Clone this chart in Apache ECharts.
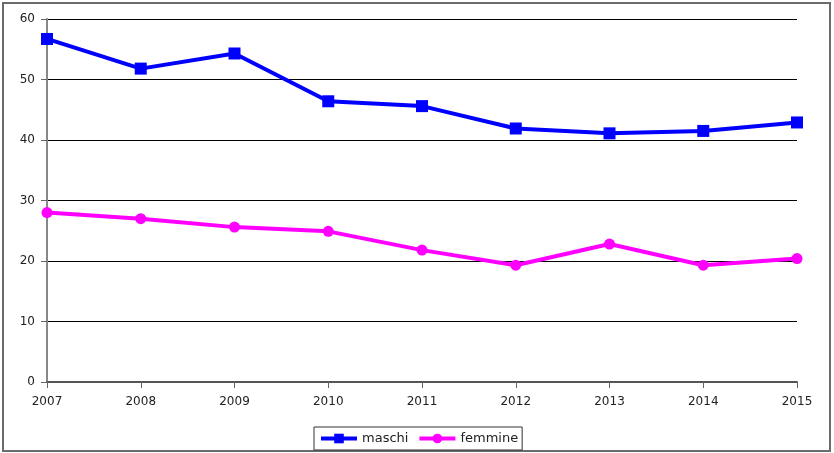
<!DOCTYPE html>
<html>
<head>
<meta charset="utf-8">
<script src="https://cdn.jsdelivr.net/npm/echarts@6/dist/echarts.min.js"></script>
<style>html,body{margin:0;padding:0;background:#fff;}#c{width:834px;height:453px;}</style>
</head>
<body>
<div id="c"></div>
<script>
const years = ['2007','2008','2009','2010','2011','2012','2013','2014','2015'];
const maschi = [56.7, 51.8, 54.3, 46.4, 45.6, 41.9, 41.1, 41.5, 42.9];
const femmine = [28.0, 27.0, 25.6, 24.9, 21.8, 19.3, 22.8, 19.3, 20.4];
const seriesNames = ['maschi', 'femmine'];

const chart = echarts.init(document.getElementById('c'), null, {renderer: 'canvas'});
const font = 'DejaVu Sans, Liberation Sans, Arial, sans-serif';
chart.setOption({
  animation: false,
  backgroundColor: '#fff',
  textStyle: {fontFamily: font},
  graphic: [{
    type: 'rect', silent: true,
    shape: {x: 3, y: 3, width: 827, height: 448},
    style: {fill: 'none', stroke: '#6b6b6b', lineWidth: 2}
  }],
  grid: {left: 47, right: 37, top: 19, bottom: 71, containLabel: false},
  legend: {
    data: seriesNames,
    left: 314, top: 427,
    padding: [5, 4, 5, 5],
    borderColor: '#333', borderWidth: 1,
    itemWidth: 36, itemHeight: 12, itemGap: 9,
    lineStyle: {width: 4},
    textStyle: {fontSize: 13, color: '#222', fontFamily: font, padding: [0, 0, 0, 0]}
  },
  xAxis: {
    type: 'category', data: years, boundaryGap: false,
    axisLine: {lineStyle: {color: '#555', width: 2}},
    axisTick: {show: true, alignWithLabel: true, length: 6, lineStyle: {color: '#666', width: 1}},
    axisLabel: {fontSize: 12, color: '#222', margin: 14, fontFamily: font},
    splitLine: {show: false}
  },
  yAxis: {
    type: 'value', min: 0, max: 60, interval: 10,
    axisLine: {show: true, lineStyle: {color: '#888', width: 2}},
    axisTick: {show: true, length: 6, lineStyle: {color: '#666', width: 1}},
    axisLabel: {fontSize: 12, color: '#222', margin: 12, fontFamily: font},
    splitLine: {show: true, lineStyle: {color: '#000', width: 1}}
  },
  series: [
    {
      name: seriesNames[0], type: 'line', data: maschi,
      symbol: 'rect', symbolSize: 12,
      lineStyle: {color: '#0000ff', width: 4},
      itemStyle: {color: '#0000ff'}
    },
    {
      name: seriesNames[1], type: 'line', data: femmine,
      symbol: 'circle', symbolSize: 11,
      lineStyle: {color: '#ff00ff', width: 4},
      itemStyle: {color: '#ff00ff'}
    }
  ]
});
</script>
</body>
</html>
